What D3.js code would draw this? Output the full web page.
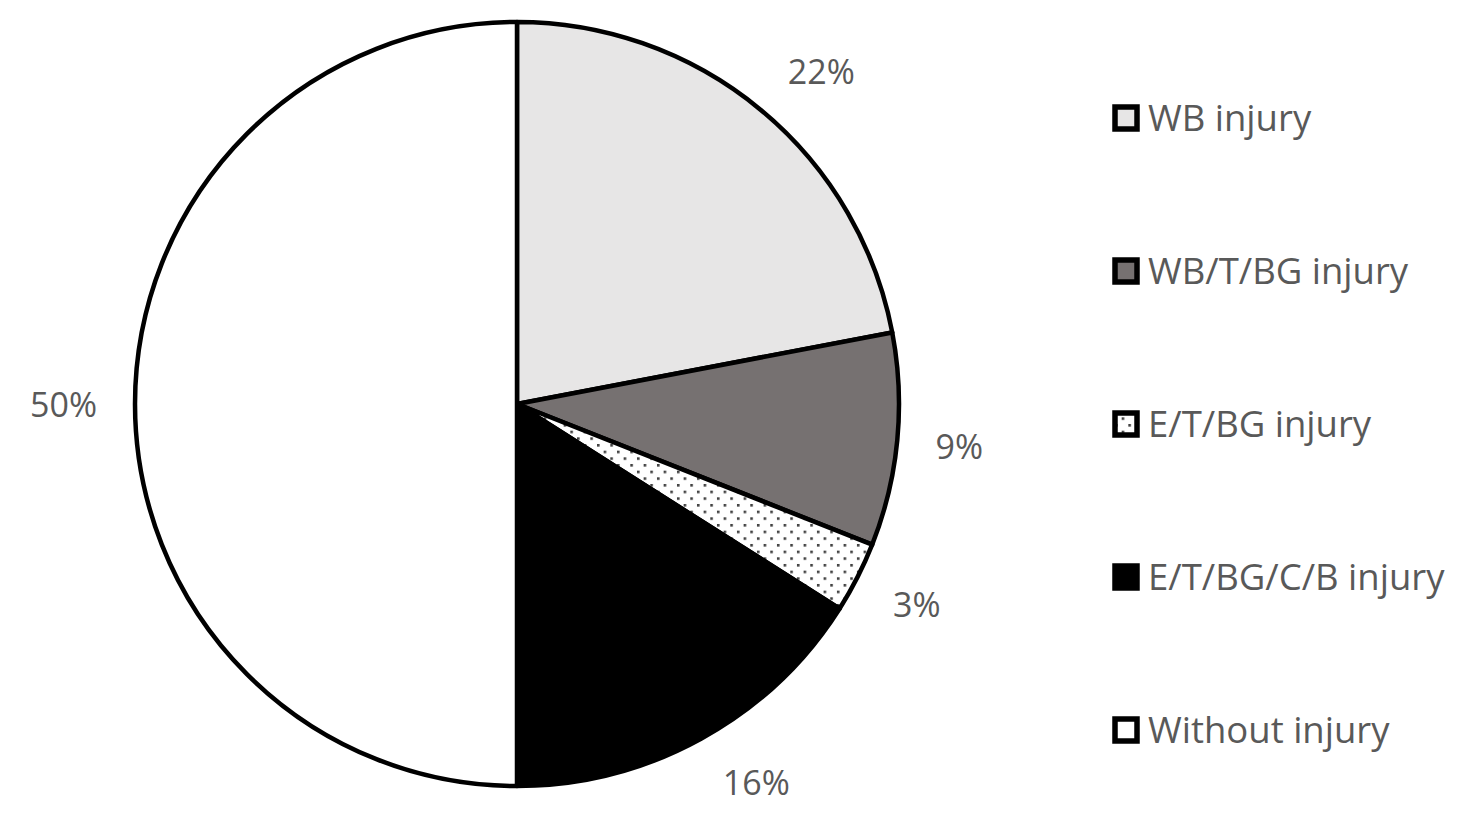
<!DOCTYPE html>
<html><head><meta charset="utf-8">
<script src="https://cdn.jsdelivr.net/npm/d3@7"></script>
<style>
html,body{margin:0;padding:0;background:#fff;}
svg{display:block;}
</style></head>
<body>
<script>
const categories = ["WB injury","WB/T/BG injury","E/T/BG injury","E/T/BG/C/B injury","Without injury"];
const values = [22, 9, 3, 16, 50];
const labels = ["22%","9%","3%","16%","50%"];
const fills = ["#e7e6e6","#767171","url(#dots)","#000000","#ffffff"];

const W = 1467, H = 831;
const svg = d3.select("body").append("svg").attr("width", W).attr("height", H);

const defs = svg.append("defs");
const pat = defs.append("pattern").attr("id","dots").attr("patternUnits","userSpaceOnUse")
  .attr("width", 13.33).attr("height", 13.33);
pat.append("rect").attr("width",13.33).attr("height",13.33).attr("fill","#fff");
pat.append("rect").attr("x",0).attr("y",0).attr("width",2.6).attr("height",2.6).attr("fill","#404040");
pat.append("rect").attr("x",6.67).attr("y",6.67).attr("width",2.6).attr("height",2.6).attr("fill","#404040");

const cx = 517, cy = 404, r = 382;
const pie = d3.pie().sort(null).value(d => d);
const arcs = pie(values);
const arc = d3.arc().innerRadius(0).outerRadius(r);

const g = svg.append("g").attr("transform", `translate(${cx},${cy})`);
g.selectAll("path.slice").data(arcs).join("path")
  .attr("class","slice")
  .attr("d", arc)
  .attr("fill", (d,i) => fills[i])
  .attr("stroke", "#000")
  .attr("stroke-width", 4.5)
  .attr("stroke-linejoin","round");

const lbl = g.selectAll("text.lbl").data(arcs).join("text")
  .attr("class","lbl")
  .attr("text-anchor","middle")
  .attr("dominant-baseline","central")
  .attr("font-family","'Open Sans', sans-serif")
  .attr("font-size", 34)
  .attr("fill","#595959")
  .text((d,i) => labels[i]);

// Outside-end placement: anchor point on a ring, label box pushed outward from it
const clamp = v => Math.max(-1, Math.min(1, v));
lbl.each(function(d){
  const bb = this.getBBox();
  const w = bb.width, h = bb.height * 0.42;
  const a = (d.startAngle + d.endAngle) / 2;
  const s = Math.sin(a), c = Math.cos(a);
  const R = r + 38;
  const x = R * s + (w/2) * clamp(3 * s) + 4 * clamp(3 * s) * Math.abs(c);
  const y = -R * c - (h/2) * clamp(3 * c);
  d3.select(this).attr("transform", `translate(${x},${y})`);
});

const ly = d3.scalePoint().domain(categories).range([118, 730]);
const leg = svg.append("g").selectAll("g").data(categories).join("g")
  .attr("transform", d => `translate(1115,${ly(d)})`);
leg.append("rect")
  .attr("x",0).attr("y",-11).attr("width",22).attr("height",22)
  .attr("fill",(d,i)=>fills[i]).attr("stroke","#000").attr("stroke-width",5.5);
leg.append("text")
  .attr("x",33).attr("y",-1)
  .attr("dominant-baseline","central")
  .attr("font-family","'Open Sans', sans-serif")
  .attr("font-size", 36.5)
  .attr("fill","#595959")
  .text(d => d);
</script>
</body></html>
